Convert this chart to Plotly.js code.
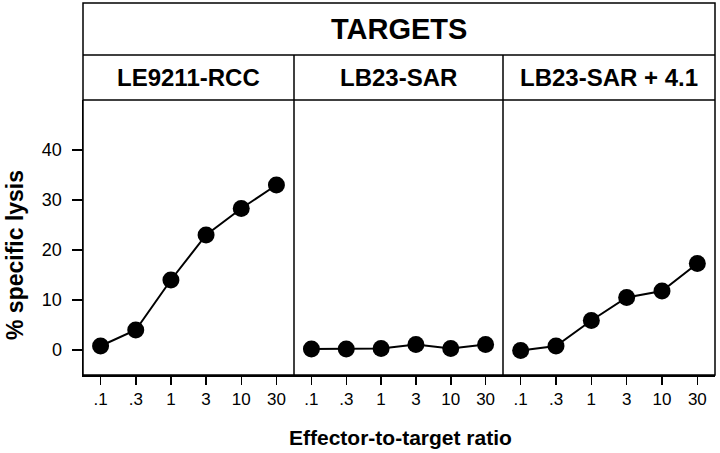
<!DOCTYPE html>
<html><head><meta charset="utf-8">
<script src="https://cdn.plot.ly/plotly-3.0.1.min.js"></script>
<style>body{margin:0;background:#fff}#c{width:720px;height:453px}</style>
</head><body><div id="c"></div>
<script>
const ratios = ['.1', '.3', '1', '3', '10', '30'];
const panelNames = ['LE9211-RCC', 'LB23-SAR', 'LB23-SAR + 4.1'];
const lysisRCC = [0.8, 4, 14, 23, 28.3, 33];
const lysisSAR = [0.2, 0.2, 0.3, 1.1, 0.3, 1.1];
const lysisSAR41 = [-0.1, 0.8, 5.9, 10.5, 11.8, 17.3];
const yTicks = [0, 10, 20, 30, 40];

const FONT = 'Liberation Sans, Arial, Helvetica, sans-serif';
const series = [lysisRCC, lysisSAR, lysisSAR41];
const idx = ratios.map((_, i) => i);
const traces = series.map((vals, k) => ({
  x: idx, y: vals, type: 'scatter', mode: 'lines+markers',
  xaxis: k === 0 ? 'x' : 'x' + (k + 1), yaxis: 'y',
  line: {color: '#000', width: 2},
  marker: {color: '#000', size: 17},
  showlegend: false, hoverinfo: 'skip', cliponaxis: false
}));

const px = (p) => (p - 83) / 632;
const py = (p) => (375 - p) / 275;
const d1 = px(294), d2 = px(503);
const xax = (dom) => ({
  domain: dom, range: [-0.5, 5.5], tickvals: idx, ticktext: ratios,
  showline: true, linecolor: '#000', linewidth: 1.5, mirror: false,
  ticks: 'outside', ticklen: 8, tickwidth: 1.5, tickcolor: '#000',
  showgrid: false, zeroline: false, fixedrange: true,
  tickfont: {family: FONT, size: 17, color: '#000'}
});
const topP = py(3), midP = py(55);
const lineS = {color: '#000', width: 1.5};
const shapes = [
  {type: 'rect', xref: 'paper', yref: 'paper', x0: 0, x1: 1, y0: 0, y1: topP, line: lineS},
  {type: 'line', xref: 'paper', yref: 'paper', x0: 0, x1: 1, y0: midP, y1: midP, line: lineS},
  {type: 'line', xref: 'paper', yref: 'paper', x0: 0, x1: 1, y0: 1, y1: 1, line: lineS},
  {type: 'line', xref: 'paper', yref: 'paper', x0: d1, x1: d1, y0: 0, y1: midP, line: lineS},
  {type: 'line', xref: 'paper', yref: 'paper', x0: d2, x1: d2, y0: 0, y1: midP, line: lineS}
];
const centers = [d1 / 2, (d1 + d2) / 2, (d2 + 1) / 2];
const bold = (s) => ({family: FONT, size: s, color: '#000', weight: 'bold'});
const annotations = [
  {text: 'TARGETS', xref: 'paper', yref: 'paper', x: 0.5, y: (topP + midP) / 2, showarrow: false,
   xanchor: 'center', yanchor: 'middle', font: bold(29)},
  {text: 'Effector-to-target ratio', xref: 'paper', yref: 'paper', x: px(400), y: py(437), showarrow: false,
   xanchor: 'center', yanchor: 'middle', font: bold(21)},
  {text: '% specific lysis', xref: 'paper', yref: 'paper', x: px(15), y: py(255), showarrow: false,
   textangle: -90, xanchor: 'center', yanchor: 'middle', font: bold(23)}
].concat(panelNames.map((n, i) => ({
  text: n, xref: 'paper', yref: 'paper', x: centers[i], y: (midP + 1) / 2, showarrow: false,
  xanchor: 'center', yanchor: 'middle', font: bold(24)
})));

const layout = {
  width: 720, height: 453,
  margin: {l: 83, r: 5, t: 100, b: 78},
  paper_bgcolor: '#fff', plot_bgcolor: '#fff',
  xaxis: xax([0, d1]),
  xaxis2: xax([d1, d2]),
  xaxis3: xax([d2, 1]),
  yaxis: {
    range: [-5, 50], tickvals: yTicks, showline: true, linecolor: '#000', linewidth: 1.5,
    ticks: 'outside', ticklen: 10, tickwidth: 1.5, tickcolor: '#000',
    showgrid: false, zeroline: false, fixedrange: true, ticklabelstandoff: 6,
    tickfont: {family: FONT, size: 18, color: '#000'}
  },
  shapes: shapes,
  annotations: annotations
};
Plotly.newPlot('c', traces, layout, {displayModeBar: false, staticPlot: true});
</script></body></html>
